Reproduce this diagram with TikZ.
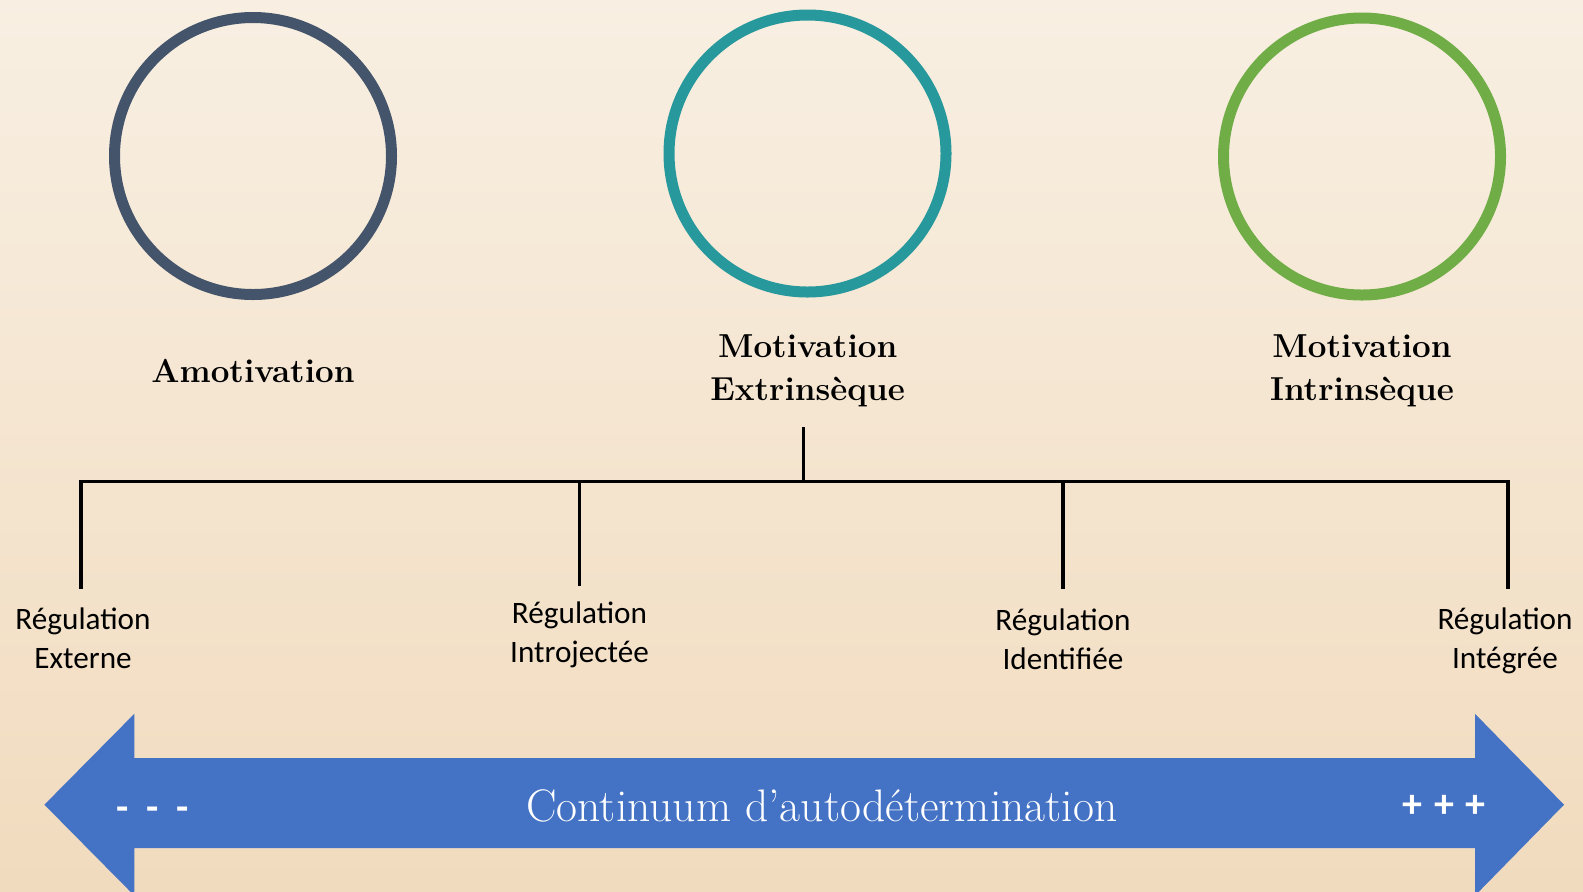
\documentclass[tikz,border=0pt]{standalone}
\usepackage{fontspec}
\newfontfamily\calib{Carlito}
\usetikzlibrary{positioning}

\definecolor{slate}{HTML}{44546A}
\definecolor{teal}{HTML}{27989C}
\definecolor{leaf}{HTML}{70AD47}
\definecolor{bar}{HTML}{4472C4}
\definecolor{paperTop}{HTML}{F8EFE2}
\definecolor{paperBot}{HTML}{F1DBBE}

\tikzset{
    ring/.style = {shape = circle, draw, line width = 5.5pt, minimum size = 138.5pt, inner sep = 0pt},
    title/.style = {align = center, font = \fontsize{16.6}{21.2}\selectfont\bfseries},
    reglabel/.style = {align = center, font = \calib\fontsize{15.6}{19.6}\selectfont},
    sign/.style = {white, font = \calib\bfseries\fontsize{20}{24}\selectfont},
    branch/.style = {line width = 1.8pt, black}
}

\begin{document}
\begin{tikzpicture}[x = 0.5pt, y = -0.5pt]
    \useasboundingbox (0,0) rectangle (1583,891);
    \shade[top color = paperTop, bottom color = paperBot] (0,0) rectangle (1583,891);

    % the three circles
    \node [ring, color = slate] (ramot) at (253,156) {};
    \node [ring, color = teal] (rextr) at (807.5,153.5) {};
    \node [ring, color = leaf] (rintr) at (1362,156.5) {};

    \node [title] (amot) at (253,370.5) {Amotivation};
    \node [title] (extr) at (807.7,371) {Motivation\\Extrinsèque};
    \node [title] (intr) at (1362,371) {Motivation\\Intrinsèque};

    % the tree below the middle title
    \coordinate (stem) at (803.6,427);
    \coordinate (hub) at (803.6,481.6);
    \coordinate (j1) at (80.8,481.6);
    \coordinate (j2) at (579.5,481.6);
    \coordinate (j3) at (1063,481.6);
    \coordinate (j4) at (1508,481.6);
    \coordinate (d1) at (80.8,588.6);
    \coordinate (d2) at (579.5,585.6);
    \coordinate (d3) at (1063,588.6);
    \coordinate (d4) at (1508,588.6);
    \draw [branch] (stem) -- (hub);
    \draw [branch, line cap = rect] (j1) -- (j4);
    \draw [branch] (j1) -- (d1);
    \draw [branch] (j2) -- (d2);
    \draw [branch] (j3) -- (d3);
    \draw [branch] (j4) -- (d4);

    \node [reglabel] (rext) at (83,638.5) {Régulation\\Externe};
    \node [reglabel] (rintro) at (579.5,635) {Régulation\\Introjectée};
    \node [reglabel] (rident) at (1063,639) {Régulation\\Identifiée};
    \node [reglabel] (rinteg) at (1505,641) {Régulation\\Intégrée};

    % the double arrow
    \fill [bar] (44.4,804.7) -- (134.3,713.8) -- (134.3,758) -- (1475,758) -- (1475,713.8)
        -- (1564,804.7) -- (1475,895.6) -- (1475,848) -- (134.3,848) -- (134.3,895.6) -- cycle;
    \node [sign] (minus) at (152.5,814) {-\hspace{0.45em}-\hspace{0.45em}-};
    \node [sign] (plus) at (1444,806) {+\hspace{0.3em}+\hspace{0.3em}+};
    \node [white, font = \fontsize{22.8}{26}\selectfont] (cont) at (822,805.7) {Continuum d’autodétermination};
\end{tikzpicture}
\end{document}
